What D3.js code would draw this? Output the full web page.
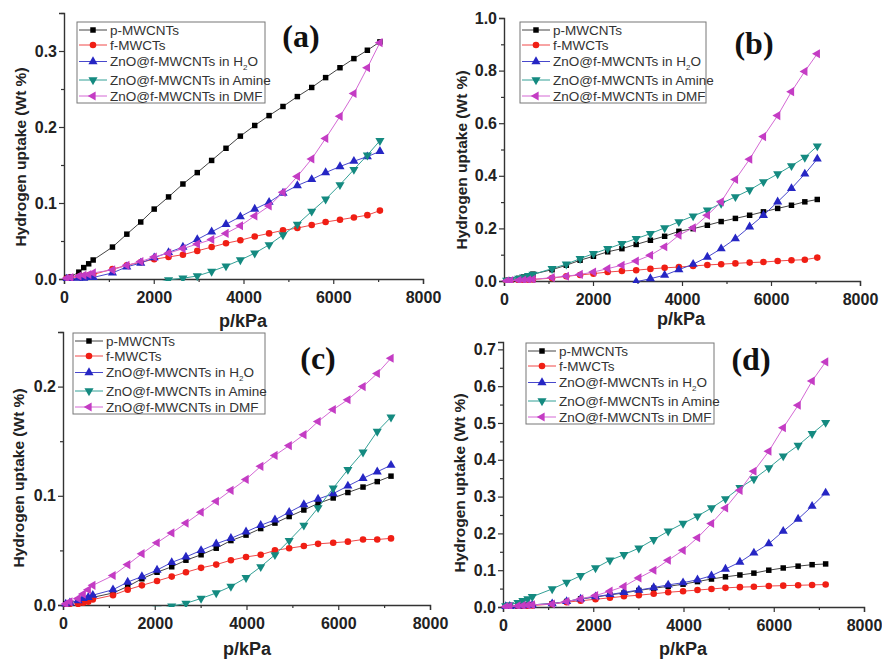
<!DOCTYPE html>
<html>
<head>
<meta charset="utf-8">
<script src="https://cdn.jsdelivr.net/npm/d3@7"></script>
<style>
  body { margin: 0; background: #fff; }
  svg { display: block; font-family: "Liberation Sans", Arial, sans-serif; }
</style>
</head>
<body>
<svg id="fig" width="882" height="661"></svg>
<script>
// DATA
const seriesNames = ["p-MWCNTs", "f-MWCTs", "ZnO@f-MWCNTs in H2O", "ZnO@f-MWCNTs in Amine", "ZnO@f-MWCNTs in DMF"];
const panelLabels = ["(a)", "(b)", "(c)", "(d)"];
const xTicks = [0, 2000, 4000, 6000, 8000];

// pressures (kPa), top row and bottom row
const pTop = [60, 150, 330, 440, 550, 650, 1080, 1400, 1710, 2010, 2330, 2650, 2970, 3290, 3610, 3930, 4250, 4570, 4880, 5200, 5520, 5830, 6150, 6460, 6760, 7040];
const pBot = [60, 150, 330, 440, 550, 650, 1090, 1410, 1720, 2050, 2370, 2680, 3010, 3340, 3660, 3990, 4310, 4620, 4930, 5250, 5560, 5890, 6210, 6540, 6850, 7150];

const N = null;
// (a)
const pmwA = [0.002, 0.003, 0.009, 0.015, 0.020, 0.025, 0.042, 0.059, 0.075, 0.092, 0.108, 0.125, 0.140, 0.156, 0.172, 0.188, 0.202, 0.215, 0.227, 0.240, 0.252, 0.265, 0.278, 0.290, 0.301, 0.312];
const fmwA = [0.001, 0.002, 0.003, 0.004, 0.005, 0.006, 0.013, 0.018, 0.022, 0.026, 0.029, 0.032, 0.037, 0.042, 0.047, 0.051, 0.056, 0.060, 0.064, 0.067, 0.071, 0.075, 0.078, 0.081, 0.084, 0.090];
const h2oA = [0.000, 0.000, 0.001, 0.001, 0.002, 0.002, 0.008, 0.016, 0.021, 0.028, 0.035, 0.042, 0.052, 0.062, 0.072, 0.082, 0.092, 0.101, 0.113, 0.123, 0.131, 0.140, 0.148, 0.155, 0.161, 0.168];
const amineA = [N, N, N, N, N, N, N, N, N, -0.006, -0.001, 0.001, 0.004, 0.010, 0.017, 0.025, 0.034, 0.045, 0.058, 0.072, 0.089, 0.105, 0.124, 0.144, 0.163, 0.182];
const dmfA = [0.001, 0.002, 0.004, 0.005, 0.006, 0.008, 0.012, 0.018, 0.023, 0.029, 0.034, 0.040, 0.046, 0.052, 0.060, 0.070, 0.083, 0.096, 0.114, 0.135, 0.158, 0.185, 0.214, 0.244, 0.278, 0.311];
// (b)
const pmwB = [0.002, 0.004, 0.010, 0.015, 0.020, 0.026, 0.043, 0.060, 0.079, 0.094, 0.111, 0.123, 0.139, 0.155, 0.170, 0.189, 0.199, 0.212, 0.226, 0.238, 0.250, 0.263, 0.276, 0.288, 0.301, 0.310];
const fmwB = [0.001, 0.002, 0.003, 0.004, 0.005, 0.006, 0.011, 0.018, 0.023, 0.028, 0.034, 0.038, 0.041, 0.046, 0.050, 0.053, 0.057, 0.061, 0.064, 0.067, 0.070, 0.072, 0.076, 0.079, 0.081, 0.089];
const h2oB = [N, N, N, N, N, N, N, N, N, N, N, -0.03, -0.003, 0.009, 0.022, 0.043, 0.064, 0.091, 0.123, 0.161, 0.206, 0.250, 0.301, 0.352, 0.407, 0.464];
const amineB = [0.002, 0.005, 0.010, 0.015, 0.020, 0.025, 0.047, 0.064, 0.085, 0.104, 0.123, 0.142, 0.161, 0.180, 0.202, 0.225, 0.247, 0.269, 0.295, 0.320, 0.346, 0.377, 0.407, 0.438, 0.470, 0.513];
const dmfB = [0.001, 0.002, 0.003, 0.004, 0.005, 0.006, 0.013, 0.018, 0.025, 0.034, 0.047, 0.060, 0.076, 0.098, 0.130, 0.174, 0.202, 0.250, 0.301, 0.386, 0.463, 0.549, 0.629, 0.720, 0.797, 0.864];
// (c)
const pmwC = [0.001, 0.002, 0.004, 0.005, 0.006, 0.007, 0.011, 0.017, 0.024, 0.030, 0.035, 0.041, 0.046, 0.052, 0.059, 0.064, 0.070, 0.075, 0.081, 0.087, 0.093, 0.098, 0.103, 0.108, 0.113, 0.118];
const fmwC = [0.000, 0.001, 0.001, 0.002, 0.003, 0.005, 0.009, 0.014, 0.018, 0.022, 0.026, 0.030, 0.034, 0.037, 0.041, 0.044, 0.046, 0.050, 0.052, 0.054, 0.056, 0.057, 0.058, 0.060, 0.060, 0.061];
const h2oC = [0.001, 0.002, 0.004, 0.006, 0.007, 0.009, 0.014, 0.021, 0.026, 0.032, 0.039, 0.044, 0.050, 0.056, 0.061, 0.067, 0.073, 0.078, 0.085, 0.092, 0.097, 0.102, 0.109, 0.116, 0.122, 0.128];
const amineC = [N, N, N, N, N, N, N, N, N, -0.004, -0.001, 0.0015, 0.006, 0.011, 0.017, 0.025, 0.035, 0.046, 0.059, 0.073, 0.089, 0.107, 0.124, 0.140, 0.159, 0.172];
const dmfC = [0.001, 0.003, 0.006, 0.010, 0.014, 0.018, 0.027, 0.037, 0.047, 0.057, 0.066, 0.075, 0.085, 0.095, 0.105, 0.115, 0.127, 0.137, 0.146, 0.156, 0.168, 0.179, 0.188, 0.200, 0.212, 0.226];
// (d)
const pmwD = [0.001, 0.002, 0.003, 0.004, 0.005, 0.006, 0.009, 0.015, 0.022, 0.027, 0.033, 0.038, 0.045, 0.051, 0.056, 0.062, 0.069, 0.076, 0.082, 0.087, 0.092, 0.100, 0.106, 0.111, 0.115, 0.117];
const fmwD = [0.000, 0.001, 0.001, 0.002, 0.003, 0.004, 0.008, 0.013, 0.017, 0.021, 0.025, 0.029, 0.032, 0.036, 0.040, 0.043, 0.046, 0.049, 0.052, 0.054, 0.055, 0.057, 0.058, 0.059, 0.060, 0.061];
const h2oD = [0.001, 0.002, 0.003, 0.004, 0.005, 0.006, 0.009, 0.015, 0.022, 0.028, 0.034, 0.040, 0.046, 0.053, 0.060, 0.066, 0.074, 0.085, 0.103, 0.122, 0.147, 0.172, 0.206, 0.239, 0.274, 0.310];
const amineD = [0.003, 0.006, 0.012, 0.017, 0.022, 0.028, 0.049, 0.067, 0.085, 0.106, 0.127, 0.142, 0.160, 0.183, 0.206, 0.227, 0.247, 0.269, 0.294, 0.324, 0.348, 0.378, 0.410, 0.439, 0.471, 0.501];
const dmfD = [0.001, 0.002, 0.003, 0.004, 0.005, 0.006, 0.008, 0.015, 0.022, 0.031, 0.043, 0.056, 0.079, 0.100, 0.127, 0.154, 0.188, 0.227, 0.269, 0.317, 0.369, 0.423, 0.487, 0.548, 0.614, 0.666];

// series styles
const markerColors = ["#000000", "#f01e14", "#2626c4", "#148a80", "#c43cc4"];
const lineColors = ["#444444", "#f04848", "#4848cc", "#33a096", "#d468d4"];
const symbols = [d3.symbolSquare, d3.symbolCircle, d3.symbolTriangle, d3.symbolTriangle, d3.symbolTriangle];
const symRot = [0, 0, 0, 180, -90];
const symSize = [30, 34, 36, 36, 36];

// panel layout (pixel positions)
const panels = [
  { p: pTop, ys: [pmwA, fmwA, h2oA, amineA, dmfA], x0: 64, x1: 423, y0: 279, y1: 13, ymax: 0.35, yticks: [0, 0.1, 0.2, 0.3], yminor: [0.05, 0.15, 0.25, 0.35],
    leg: [77, 22, 188], lab: [301, 47], ytitle: [20, 157], xtitle: [243, 327] },
  { p: pTop, ys: [pmwB, fmwB, h2oB, amineB, dmfB], x0: 504, x1: 860, y0: 281, y1: 18, ymax: 1.0, yticks: [0, 0.2, 0.4, 0.6, 0.8, 1.0], yminor: [0.1, 0.3, 0.5, 0.7, 0.9],
    leg: [520, 22, 186], lab: [754, 54], ytitle: [461, 160], xtitle: [681, 325] },
  { p: pBot, ys: [pmwC, fmwC, h2oC, amineC, dmfC], x0: 63, x1: 430, y0: 605, y1: 332, ymax: 0.25, yticks: [0, 0.1, 0.2], yminor: [0.05, 0.15, 0.25],
    leg: [73, 333, 192], lab: [318, 369], ytitle: [18, 478], xtitle: [247, 655] },
  { p: pBot, ys: [pmwD, fmwD, h2oD, amineD, dmfD], x0: 503, x1: 864, y0: 607, y1: 342, ymax: 0.72, yticks: [0, 0.1, 0.2, 0.3, 0.4, 0.5, 0.6, 0.7], yminor: [0.05, 0.15, 0.25, 0.35, 0.45, 0.55, 0.65],
    leg: [526, 343, 188], lab: [751, 370], ytitle: [459, 483], xtitle: [683, 655] }
];
const legRows = [8, 23, 39.5, 58, 74];

const svg = d3.select("#fig");
const axisColor = "#333";

panels.forEach((cfg, pi) => {
  const g = svg.append("g");
  const x = d3.scaleLinear().domain([0, 8000]).range([cfg.x0, cfg.x1]);
  const y = d3.scaleLinear().domain([0, cfg.ymax]).range([cfg.y0, cfg.y1]);

  // clip so nothing goes below the x axis
  const clipId = "clip" + pi;
  svg.append("clipPath").attr("id", clipId)
    .append("rect").attr("x", cfg.x0 - 10).attr("y", cfg.y1 - 10)
    .attr("width", cfg.x1 - cfg.x0 + 20).attr("height", cfg.y0 - cfg.y1 + 12);

  // axes
  const xAx = g.append("g").attr("transform", `translate(0,${cfg.y0})`)
    .call(d3.axisBottom(x).tickValues(xTicks).tickFormat(d3.format("d")).tickSize(5).tickPadding(4));
  g.append("g").attr("transform", `translate(0,${cfg.y0})`)
    .call(d3.axisBottom(x).tickValues([1000, 3000, 5000, 7000]).tickFormat("").tickSize(3))
    .select(".domain").remove();
  g.append("g").attr("transform", `translate(${cfg.x0},0)`)
    .call(d3.axisLeft(y).tickValues(cfg.yticks).tickFormat(d3.format(".1f")).tickSize(5).tickPadding(2));
  g.append("g").attr("transform", `translate(${cfg.x0},0)`)
    .call(d3.axisLeft(y).tickValues(cfg.yminor.filter(v => v <= cfg.ymax)).tickFormat("").tickSize(3))
    .select(".domain").remove();

  g.selectAll(".domain").attr("stroke", axisColor).attr("stroke-width", 1.4);
  g.selectAll(".tick line").attr("stroke", axisColor).attr("stroke-width", 1.2);
  g.selectAll(".tick text").attr("fill", "#222").style("font-size", "16px").style("font-weight", "bold");
  xAx.selectAll(".tick text").attr("dy", "0.95em");

  // axis titles
  g.append("text")
    .attr("transform", `translate(${cfg.ytitle[0]},${cfg.ytitle[1]}) rotate(-90)`)
    .attr("text-anchor", "middle").attr("dominant-baseline", "central")
    .style("font-size", "15.5px").style("font-weight", "bold").attr("fill", "#222")
    .text("Hydrogen uptake (Wt %)");
  g.append("text")
    .attr("x", cfg.xtitle[0]).attr("y", cfg.xtitle[1])
    .attr("text-anchor", "middle")
    .style("font-size", "18px").style("font-weight", "bold").attr("fill", "#222")
    .text("p/kPa");

  // series
  const plot = g.append("g").attr("clip-path", `url(#${clipId})`);
  cfg.ys.forEach((vals, si) => {
    const pts = cfg.p.map((p, i) => ({ p: p, v: vals[i] })).filter(d => d.v !== null);
    plot.append("path")
      .datum(pts)
      .attr("fill", "none")
      .attr("stroke", lineColors[si])
      .attr("stroke-width", 1)
      .attr("d", d3.line().x(d => x(d.p)).y(d => y(d.v)));
    plot.selectAll(null)
      .data(pts)
      .join("path")
      .attr("transform", d => `translate(${x(d.p)},${y(d.v)}) rotate(${symRot[si]})`)
      .attr("d", d3.symbol().type(symbols[si]).size(symSize[si]))
      .attr("fill", markerColors[si]);
  });

  // legend
  const [lx, ly, lw] = cfg.leg;
  const leg = g.append("g").attr("transform", `translate(${lx},${ly})`);
  leg.append("rect").attr("width", lw).attr("height", 81)
    .attr("fill", "#fff").attr("stroke", "#777").attr("stroke-width", 1);
  seriesNames.forEach((name, si) => {
    const ry = legRows[si];
    leg.append("line").attr("x1", 2).attr("x2", 30).attr("y1", ry).attr("y2", ry)
      .attr("stroke", lineColors[si]).attr("stroke-width", 1);
    leg.append("path")
      .attr("transform", `translate(16,${ry}) rotate(${symRot[si]})`)
      .attr("d", d3.symbol().type(symbols[si]).size(symSize[si]))
      .attr("fill", markerColors[si]);
    const t = leg.append("text").attr("x", 33).attr("y", ry).attr("dy", "0.36em")
      .style("font-size", "13.5px").attr("fill", "#333");
    if (name.endsWith("H2O")) {
      t.append("tspan").text("ZnO@f-MWCNTs in H");
      t.append("tspan").attr("dy", "4").style("font-size", "8px").text("2");
      t.append("tspan").attr("dy", "-4").text("O");
    } else {
      t.text(name);
    }
  });

  // panel label
  g.append("text")
    .attr("x", cfg.lab[0]).attr("y", cfg.lab[1])
    .attr("text-anchor", "middle")
    .style("font-family", "'Liberation Serif', 'Times New Roman', serif")
    .style("font-size", "32px").style("font-weight", "bold").attr("fill", "#111")
    .text(panelLabels[pi]);
});
</script>
</body>
</html>
